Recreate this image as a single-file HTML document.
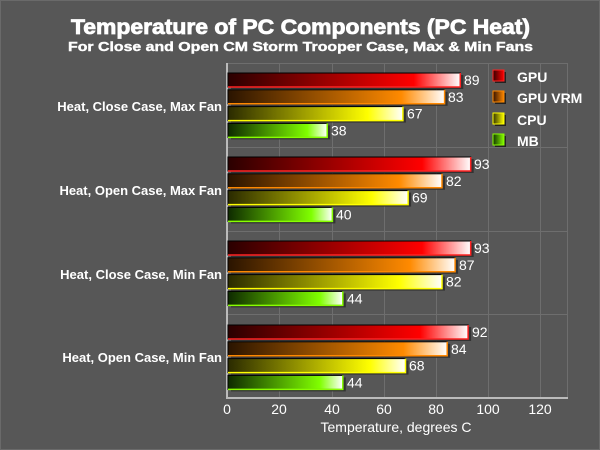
<!DOCTYPE html>
<html><head><style>html,body{margin:0;padding:0;background:#575757}svg{display:block}</style></head>
<body>
<svg width="600" height="450" viewBox="0 0 600 450" xmlns="http://www.w3.org/2000/svg" font-family="Liberation Sans, Arial, sans-serif">
<defs>
<linearGradient id="gr" x1="0" x2="1"><stop offset="0" stop-color="#2a0000"/><stop offset="0.8" stop-color="#ff0000"/><stop offset="1" stop-color="#ffffff"/></linearGradient>
<linearGradient id="go" x1="0" x2="1"><stop offset="0" stop-color="#2a1400"/><stop offset="0.8" stop-color="#ff8a00"/><stop offset="1" stop-color="#ffffff"/></linearGradient>
<linearGradient id="gy" x1="0" x2="1"><stop offset="0" stop-color="#2a2a00"/><stop offset="0.8" stop-color="#ffff00"/><stop offset="1" stop-color="#ffffff"/></linearGradient>
<linearGradient id="gg" x1="0" x2="1"><stop offset="0" stop-color="#0e2a00"/><stop offset="0.8" stop-color="#80ff00"/><stop offset="1" stop-color="#ffffff"/></linearGradient>
<linearGradient id="lr" x1="0" x2="1"><stop offset="0" stop-color="#300"/><stop offset="1" stop-color="#f00"/></linearGradient>
<linearGradient id="lo" x1="0" x2="1"><stop offset="0" stop-color="#310"/><stop offset="1" stop-color="#f80"/></linearGradient>
<linearGradient id="ly" x1="0" x2="1"><stop offset="0" stop-color="#330"/><stop offset="1" stop-color="#ff0"/></linearGradient>
<linearGradient id="lg" x1="0" x2="1"><stop offset="0" stop-color="#130"/><stop offset="1" stop-color="#8f0"/></linearGradient>
</defs>
<rect x="0.5" y="0.5" width="599" height="449" fill="#575757" stroke="#6a6a6a"/>
<text x="71" y="34" textLength="459" lengthAdjust="spacingAndGlyphs" fill="#fff" font-size="21" font-weight="bold" stroke="#fff" stroke-width="0.8">Temperature of PC Components (PC Heat)</text>
<text x="68" y="51" textLength="465" lengthAdjust="spacingAndGlyphs" fill="#fff" font-size="13" font-weight="bold" stroke="#fff" stroke-width="0.4">For Close and Open CM Storm Trooper Case, Max &amp; Min Fans</text>
<g stroke="#6e6e6e" stroke-width="1">
<rect x="227.5" y="63.5" width="340" height="334" fill="none"/>
<line x1="279.5" y1="63" x2="279.5" y2="397"/><line x1="332.5" y1="63" x2="332.5" y2="397"/>
<line x1="384.5" y1="63" x2="384.5" y2="397"/><line x1="436.5" y1="63" x2="436.5" y2="397"/>
<line x1="488.5" y1="63" x2="488.5" y2="397"/><line x1="540.5" y1="63" x2="540.5" y2="397"/>
<line x1="227" y1="147.5" x2="567" y2="147.5"/><line x1="227" y1="231.5" x2="567" y2="231.5"/><line x1="227" y1="314.5" x2="567" y2="314.5"/>
</g>
<line x1="227" y1="63" x2="227" y2="399" stroke="#bbb" stroke-width="2"/>
<line x1="226" y1="398" x2="568" y2="398" stroke="#bbb" stroke-width="2"/>
<g fill="#fff" font-size="14" text-anchor="middle">
<text x="227" y="414">0</text><text x="279" y="414">20</text><text x="332" y="414">40</text><text x="384" y="414">60</text><text x="436" y="414">80</text><text x="488" y="414">100</text><text x="540" y="414">120</text>
<text x="396" y="432">Temperature, degrees C</text>
</g>
<g fill="#fff" font-size="13" font-weight="bold" text-anchor="end">
<text x="222" y="111">Heat, Close Case, Max Fan</text>
<text x="222" y="195">Heat, Open Case, Max Fan</text>
<text x="222" y="279">Heat, Close Case, Min Fan</text>
<text x="222" y="362">Heat, Open Case, Min Fan</text>
</g>
<g font-size="14" fill="#fff">
<rect x="231" y="75" width="232.3" height="14" fill="#333"/><rect x="228" y="73" width="232.3" height="14" fill="url(#gr)" stroke="#000"/><polyline points="228,87 460.3,87 460.3,73" fill="none" stroke="#f22" stroke-width="1.5"/><text x="464" y="85">89</text>
<rect x="231" y="91.8" width="216.6" height="14" fill="#333"/><rect x="228" y="89.8" width="216.6" height="14" fill="url(#go)" stroke="#000"/><polyline points="228,103.8 444.6,103.8 444.6,89.8" fill="none" stroke="#f80" stroke-width="1.5"/><text x="448" y="101.8">83</text>
<rect x="231" y="108.6" width="174.9" height="14" fill="#333"/><rect x="228" y="106.6" width="174.9" height="14" fill="url(#gy)" stroke="#000"/><polyline points="228,120.6 402.9,120.6 402.9,106.6" fill="none" stroke="#ff0" stroke-width="1.5"/><text x="407" y="118.6">67</text>
<rect x="231" y="125.4" width="99.2" height="14" fill="#333"/><rect x="228" y="123.4" width="99.2" height="14" fill="url(#gg)" stroke="#000"/><polyline points="228,137.4 327.2,137.4 327.2,123.4" fill="none" stroke="#8f0" stroke-width="1.5"/><text x="331" y="135.4">38</text>
<rect x="231" y="159" width="242.7" height="14" fill="#333"/><rect x="228" y="157" width="242.7" height="14" fill="url(#gr)" stroke="#000"/><polyline points="228,171 470.7,171 470.7,157" fill="none" stroke="#f22" stroke-width="1.5"/><text x="474" y="169">93</text>
<rect x="231" y="175.8" width="214" height="14" fill="#333"/><rect x="228" y="173.8" width="214" height="14" fill="url(#go)" stroke="#000"/><polyline points="228,187.8 442,187.8 442,173.8" fill="none" stroke="#f80" stroke-width="1.5"/><text x="446" y="185.8">82</text>
<rect x="231" y="192.6" width="180.1" height="14" fill="#333"/><rect x="228" y="190.6" width="180.1" height="14" fill="url(#gy)" stroke="#000"/><polyline points="228,204.6 408.1,204.6 408.1,190.6" fill="none" stroke="#ff0" stroke-width="1.5"/><text x="412" y="202.6">69</text>
<rect x="231" y="209.4" width="104.4" height="14" fill="#333"/><rect x="228" y="207.4" width="104.4" height="14" fill="url(#gg)" stroke="#000"/><polyline points="228,221.4 332.4,221.4 332.4,207.4" fill="none" stroke="#8f0" stroke-width="1.5"/><text x="336" y="219.4">40</text>
<rect x="231" y="243" width="242.7" height="14" fill="#333"/><rect x="228" y="241" width="242.7" height="14" fill="url(#gr)" stroke="#000"/><polyline points="228,255 470.7,255 470.7,241" fill="none" stroke="#f22" stroke-width="1.5"/><text x="474" y="253">93</text>
<rect x="231" y="259.8" width="227.1" height="14" fill="#333"/><rect x="228" y="257.8" width="227.1" height="14" fill="url(#go)" stroke="#000"/><polyline points="228,271.8 455.1,271.8 455.1,257.8" fill="none" stroke="#f80" stroke-width="1.5"/><text x="459" y="269.8">87</text>
<rect x="231" y="276.6" width="214" height="14" fill="#333"/><rect x="228" y="274.6" width="214" height="14" fill="url(#gy)" stroke="#000"/><polyline points="228,288.6 442,288.6 442,274.6" fill="none" stroke="#ff0" stroke-width="1.5"/><text x="446" y="286.6">82</text>
<rect x="231" y="293.4" width="114.8" height="14" fill="#333"/><rect x="228" y="291.4" width="114.8" height="14" fill="url(#gg)" stroke="#000"/><polyline points="228,305.4 342.8,305.4 342.8,291.4" fill="none" stroke="#8f0" stroke-width="1.5"/><text x="347" y="303.4">44</text>
<rect x="231" y="327" width="240.1" height="14" fill="#333"/><rect x="228" y="325" width="240.1" height="14" fill="url(#gr)" stroke="#000"/><polyline points="228,339 468.1,339 468.1,325" fill="none" stroke="#f22" stroke-width="1.5"/><text x="472" y="337">92</text>
<rect x="231" y="343.8" width="219.2" height="14" fill="#333"/><rect x="228" y="341.8" width="219.2" height="14" fill="url(#go)" stroke="#000"/><polyline points="228,355.8 447.2,355.8 447.2,341.8" fill="none" stroke="#f80" stroke-width="1.5"/><text x="451" y="353.8">84</text>
<rect x="231" y="360.6" width="177.5" height="14" fill="#333"/><rect x="228" y="358.6" width="177.5" height="14" fill="url(#gy)" stroke="#000"/><polyline points="228,372.6 405.5,372.6 405.5,358.6" fill="none" stroke="#ff0" stroke-width="1.5"/><text x="409" y="370.6">68</text>
<rect x="231" y="377.4" width="114.8" height="14" fill="#333"/><rect x="228" y="375.4" width="114.8" height="14" fill="url(#gg)" stroke="#000"/><polyline points="228,389.4 342.8,389.4 342.8,375.4" fill="none" stroke="#8f0" stroke-width="1.5"/><text x="347" y="387.4">44</text>
</g>
<g>
<rect x="495" y="72" width="11" height="11" fill="#222"/><rect x="493" y="70" width="11" height="11" fill="url(#lr)" stroke="#f22"/>
<rect x="495" y="93" width="11" height="11" fill="#222"/><rect x="493" y="91" width="11" height="11" fill="url(#lo)" stroke="#f80"/>
<rect x="495" y="115" width="11" height="11" fill="#222"/><rect x="493" y="113" width="11" height="11" fill="url(#ly)" stroke="#ff0"/>
<rect x="495" y="136" width="11" height="11" fill="#222"/><rect x="493" y="134" width="11" height="11" fill="url(#lg)" stroke="#8f0"/>
</g>
<g fill="#fff" font-size="14" font-weight="bold">
<text x="517" y="82">GPU</text><text x="517" y="103">GPU VRM</text><text x="517" y="125">CPU</text><text x="517" y="146">MB</text>
</g>
</svg>
</body></html>
